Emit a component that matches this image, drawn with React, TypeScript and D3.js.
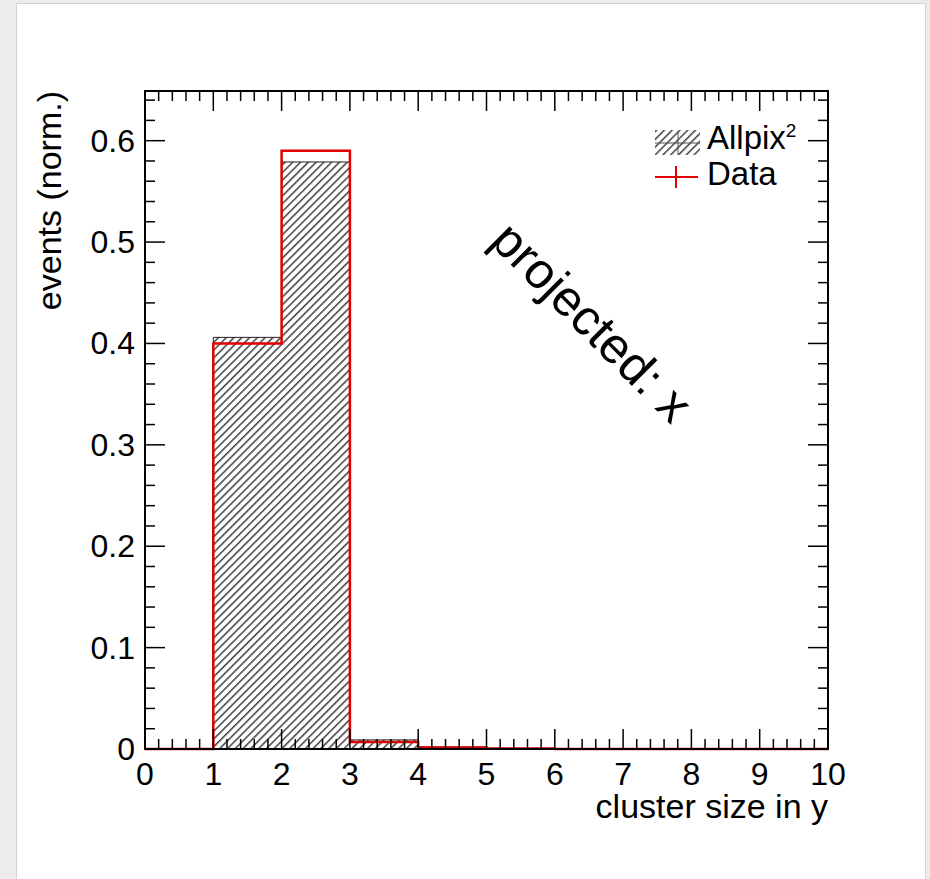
import React, { useEffect, useRef } from "react";
import * as d3 from "d3";

// histogram bins (cluster size in y), edges 0..10
const binEdges = [0, 1, 2, 3, 4, 5, 6, 7, 8, 9, 10];
const allpixValues = [0, 0.406, 0.579, 0.009, 0.002, 0.0006, 0, 0, 0, 0];
const dataValues = [0, 0.4, 0.59, 0.007, 0.0015, 0.0005, 0, 0, 0, 0];
const xTickValues = [0, 1, 2, 3, 4, 5, 6, 7, 8, 9, 10];
const yTickValues = [0, 0.1, 0.2, 0.3, 0.4, 0.5, 0.6];
const legendLabels = ["Allpix", "Data"];

const W = 930;
const H = 879;
const FONT = "'Liberation Sans', Arial, sans-serif";

const App = () => {
  const ref = useRef<SVGSVGElement>(null);

  useEffect(() => {
    const svg = d3.select(ref.current);
    svg.selectAll("*").remove();

    const margin = { top: 91, right: 102, bottom: 130, left: 145 };
    const width = W - margin.left - margin.right;
    const height = H - margin.top - margin.bottom;

    // page background
    svg.append("rect").attr("width", W).attr("height", H).attr("fill", "#ececec");
    svg
      .append("rect")
      .attr("x", 16.5)
      .attr("y", 3.5)
      .attr("width", 909)
      .attr("height", H)
      .attr("fill", "#fff")
      .attr("stroke", "#d4d4d4");

    const defs = svg.append("defs");
    defs
      .append("pattern")
      .attr("id", "hatch")
      .attr("patternUnits", "userSpaceOnUse")
      .attr("width", 5.5)
      .attr("height", 5.5)
      .attr("patternTransform", "rotate(45)")
      .append("line")
      .attr("x1", 0.8)
      .attr("y1", 0)
      .attr("x2", 0.8)
      .attr("y2", 5.5)
      .attr("stroke", "#222")
      .attr("stroke-width", 1.3);

    const x = d3.scaleLinear().domain([0, 10]).range([0, width]);
    const y = d3.scaleLinear().domain([0, 0.649]).range([height, 0]);

    const chart = svg
      .append("g")
      .attr("transform", `translate(${margin.left},${margin.top})`);

    const stepPoints = (vals: number[]) => {
      const pts: [number, number][] = [];
      vals.forEach((v, i) => {
        pts.push([binEdges[i], v]);
        pts.push([binEdges[i + 1], v]);
      });
      return pts;
    };

    const area = d3
      .area<[number, number]>()
      .x((d) => x(d[0]))
      .y0(y(0))
      .y1((d) => y(d[1]));
    const line = d3
      .line<[number, number]>()
      .x((d) => x(d[0]))
      .y((d) => y(d[1]));

    // Allpix^2 hatched histogram (bins 1..5)
    const simPts = stepPoints(allpixValues).filter((d, i) => i >= 2 && i <= 11);
    chart
      .append("path")
      .attr("d", area(simPts))
      .attr("fill", "url(#hatch)")
      .attr("stroke", "#222")
      .attr("stroke-width", 1);

    // Data step histogram
    chart
      .append("path")
      .attr("d", line(stepPoints(dataValues)))
      .attr("fill", "none")
      .attr("stroke", "#e00000")
      .attr("stroke-width", 2.5);

    // ticks: major + minor on all four sides
    const xMinor = d3.range(0, 10.001, 0.2);
    const yMinor = d3.range(0, 0.649, 0.02);
    const tickG = chart.append("g").attr("stroke", "#000").attr("stroke-width", 1.5);
    const isMajorX = (v: number) => Math.abs(v - Math.round(v)) < 1e-6;
    const isMajorY = (v: number) => Math.abs(v * 10 - Math.round(v * 10)) < 1e-6;
    xMinor.forEach((v) => {
      const len = isMajorX(v) ? 20 : 10;
      tickG.append("line").attr("x1", x(v)).attr("x2", x(v)).attr("y1", height).attr("y2", height - len);
      tickG.append("line").attr("x1", x(v)).attr("x2", x(v)).attr("y1", 0).attr("y2", len);
    });
    yMinor.forEach((v) => {
      const len = isMajorY(v) ? 20 : 10;
      tickG.append("line").attr("x1", 0).attr("x2", len).attr("y1", y(v)).attr("y2", y(v));
      tickG.append("line").attr("x1", width).attr("x2", width - len).attr("y1", y(v)).attr("y2", y(v));
    });

    // frame
    chart
      .append("rect")
      .attr("width", width)
      .attr("height", height)
      .attr("fill", "none")
      .attr("stroke", "#000")
      .attr("stroke-width", 2);

    // tick labels
    chart
      .append("g")
      .selectAll("text")
      .data(xTickValues)
      .join("text")
      .attr("x", (d) => x(d))
      .attr("y", height + 36)
      .attr("text-anchor", "middle")
      .attr("font-family", FONT)
      .attr("font-size", 32)
      .text((d) => d);

    chart
      .append("g")
      .selectAll("text")
      .data(yTickValues)
      .join("text")
      .attr("x", -10)
      .attr("y", (d) => y(d) + 11)
      .attr("text-anchor", "end")
      .attr("font-family", FONT)
      .attr("font-size", 32)
      .text((d) => (d === 0 ? "0" : d.toFixed(1)));

    // axis titles
    chart
      .append("text")
      .attr("x", width)
      .attr("y", height + 69)
      .attr("text-anchor", "end")
      .attr("font-family", FONT)
      .attr("font-size", 34)
      .text("cluster size in y");

    chart
      .append("text")
      .attr("transform", `translate(${61 - margin.left},0) rotate(-90)`)
      .attr("text-anchor", "end")
      .attr("font-family", FONT)
      .attr("font-size", 34)
      .text("events (norm.)");

    // annotation
    svg
      .append("text")
      .attr("transform", "translate(592,322) rotate(45)")
      .attr("text-anchor", "middle")
      .attr("dominant-baseline", "central")
      .attr("font-family", FONT)
      .attr("font-size", 50)
      .text("projected: x");

    // legend
    const lg = svg.append("g");
    lg.append("rect")
      .attr("x", 655)
      .attr("y", 130)
      .attr("width", 45)
      .attr("height", 25)
      .attr("fill", "url(#hatch)");
    lg.append("line").attr("x1", 655).attr("x2", 700).attr("y1", 143).attr("y2", 143).attr("stroke", "#555").attr("stroke-width", 1);
    lg.append("line").attr("x1", 678).attr("x2", 678).attr("y1", 131).attr("y2", 155).attr("stroke", "#555").attr("stroke-width", 1);
    const t1 = lg
      .append("text")
      .attr("x", 707)
      .attr("y", 149)
      .attr("font-family", FONT)
      .attr("font-size", 33)
      .text(legendLabels[0]);
    t1.append("tspan").attr("font-size", 19).attr("dy", -12).text("2");

    lg.append("line").attr("x1", 655).attr("x2", 698).attr("y1", 177).attr("y2", 177).attr("stroke", "#e00000").attr("stroke-width", 2);
    lg.append("line").attr("x1", 676).attr("x2", 676).attr("y1", 166).attr("y2", 188).attr("stroke", "#e00000").attr("stroke-width", 2);
    lg.append("text")
      .attr("x", 707)
      .attr("y", 185)
      .attr("font-family", FONT)
      .attr("font-size", 33)
      .text(legendLabels[1]);
  }, []);

  return (
    <div style={{ position: "absolute", left: 0, top: 0 }}>
      <svg ref={ref} width={W} height={H} style={{ display: "block" }} />
    </div>
  );
};

export default App;
